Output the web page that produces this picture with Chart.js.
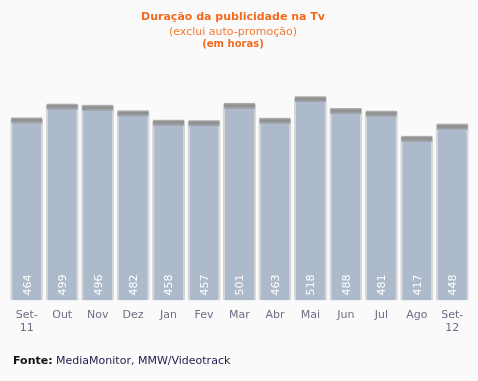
<!DOCTYPE html>
<html>
<head>
<meta charset="utf-8">
<script src="https://cdn.jsdelivr.net/npm/chart.js@4/dist/chart.umd.min.js"></script>
<style>
  html, body { margin: 0; padding: 0; background: #fafafa; }
  body { width: 478px; height: 381px; position: relative; overflow: hidden; font-family: "DejaVu Sans", Verdana, sans-serif; }
  #wrap { position: absolute; left: 0; top: 0; width: 478px; height: 381px; }
  .t { position: absolute; left: 0; width: 478px; text-align: center; white-space: nowrap; }
  #t1 { top: 10px; left: -6px; font-size: 11px; font-weight: bold; color: #f26a1f; }
  #t2 { top: 25px; left: -6px; font-size: 11px; color: #f47a35; }
  #t3 { top: 38px; left: -6px; font-size: 10px; font-weight: bold; color: #f26a1f; }
  #foot { position: absolute; left: 13px; top: 354px; font-size: 11px; color: #1c1c4c; white-space: nowrap; }
  #foot b { color: #111; }
</style>
</head>
<body>
<div id="wrap"><canvas id="c" width="478" height="381"></canvas></div>
<div class="t" id="t1">Duração da publicidade na Tv</div>
<div class="t" id="t2">(exclui auto-promoção)</div>
<div class="t" id="t3">(em horas)</div>
<div id="foot"><b>Fonte:</b> MediaMonitor, MMW/Videotrack</div>
<script>
const categories = [["Set-","11"],"Out","Nov","Dez","Jan","Fev","Mar","Abr","Mai","Jun","Jul","Ago",["Set-","12"]];
const horas = [464, 499, 496, 482, 458, 457, 501, 463, 518, 488, 481, 417, 448];
const yMin = 0;
const yMax = 600;

const barExtras = {
  id: 'barExtras',
  afterDatasetsDraw(chart) {
    const ctx = chart.ctx;
    const meta = chart.getDatasetMeta(0);
    meta.data.forEach((bar, i) => {
      const w = bar.width;
      const left = bar.x - w / 2;
      const g = ctx.createLinearGradient(0, bar.y - 1, 0, bar.y + 5);
      g.addColorStop(0, '#b8b8b8');
      g.addColorStop(0.4, '#8c8c8c');
      g.addColorStop(1, '#a4a8ae');
      ctx.save();
      ctx.fillStyle = g;
      ctx.fillRect(left + 1, bar.y - 1, w - 2, 6);
      ctx.restore();
      ctx.save();
      ctx.translate(bar.x, bar.base - 5);
      ctx.rotate(-Math.PI / 2);
      ctx.fillStyle = '#ffffff';
      ctx.font = '11px "DejaVu Sans", Verdana, sans-serif';
      ctx.textAlign = 'left';
      ctx.textBaseline = 'middle';
      ctx.fillText(String(horas[i]), 0, 1);
      ctx.restore();
    });
  }
};

new Chart(document.getElementById('c'), {
  type: 'bar',
  data: {
    labels: categories,
    datasets: [{
      data: horas,
      backgroundColor: '#adbacb',
      borderColor: '#d6d6d6',
      borderWidth: {left: 2, right: 2, top: 2, bottom: 0},
      borderSkipped: 'bottom',
      barPercentage: 0.93,
      categoryPercentage: 1.0
    }]
  },
  options: {
    responsive: false,
    animation: false,
    devicePixelRatio: 1,
    layout: { padding: { left: 9, right: 8, top: 65, bottom: 38 } },
    plugins: { legend: { display: false }, tooltip: { enabled: false }, title: { display: false } },
    scales: {
      y: { display: false, min: yMin, max: yMax },
      x: {
        grid: { display: false, drawTicks: false },
        border: { display: false },
        ticks: {
          color: '#6e6e86',
          padding: 8,
          maxRotation: 0,
          autoSkip: false,
          font: { family: '"DejaVu Sans", Verdana, sans-serif', size: 11 }
        }
      }
    }
  },
  plugins: [barExtras]
});
</script>
</body>
</html>
